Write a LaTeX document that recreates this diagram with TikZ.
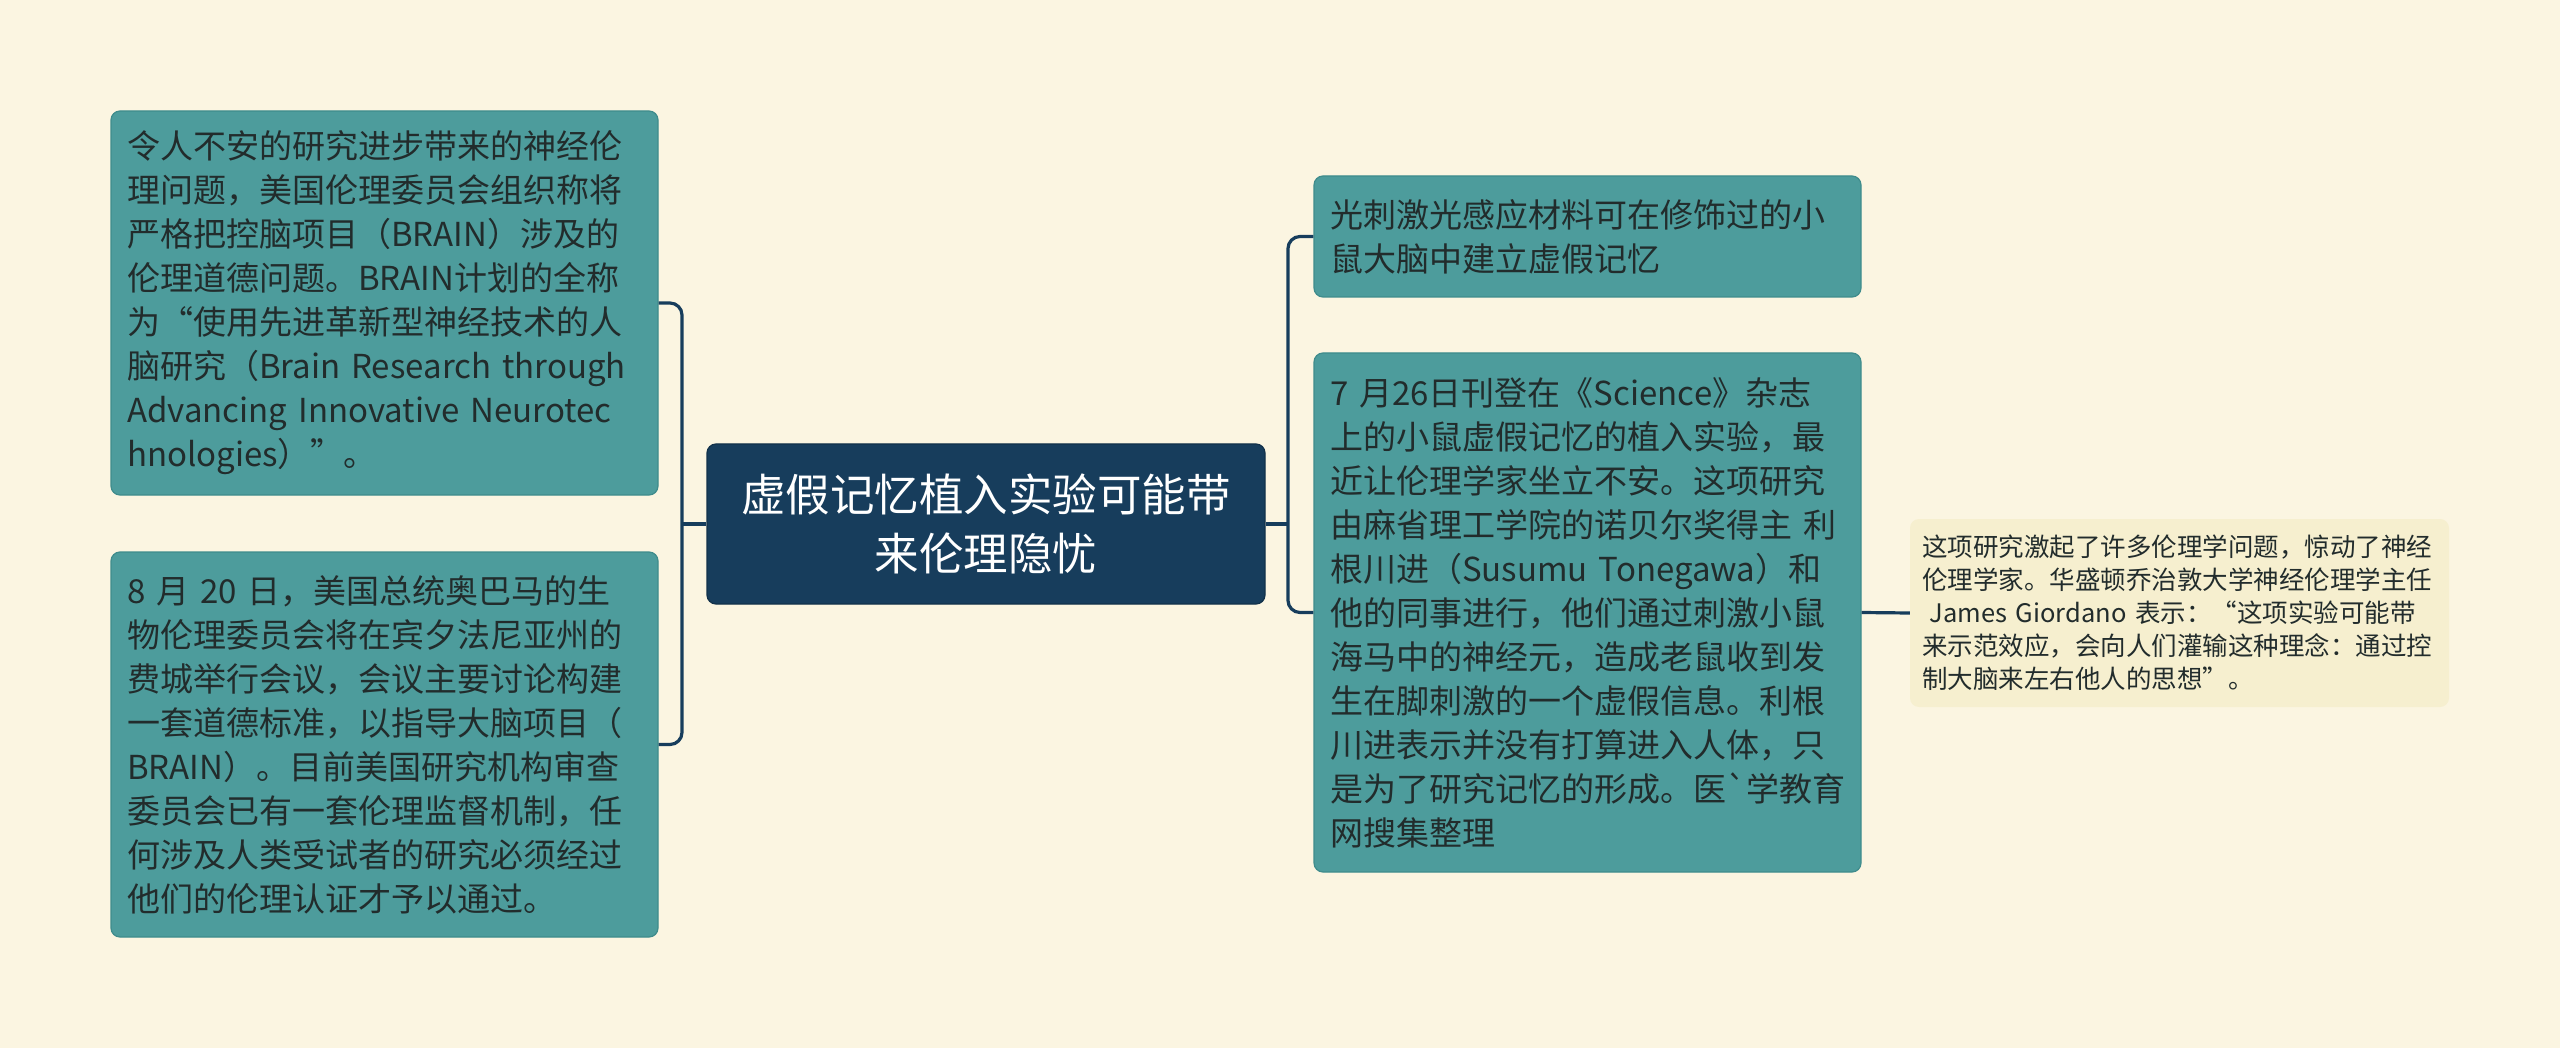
\documentclass[tikz,border=0pt]{standalone}
\usepackage{fontspec}
\newfontfamily\cjk{Noto Sans CJK SC}
\definecolor{bg}{HTML}{FBF5E1}
\definecolor{tealf}{HTML}{4D9C9C}
\definecolor{tealb}{HTML}{3F8C8C}
\definecolor{navy}{HTML}{173D5C}
\definecolor{notefill}{HTML}{F6EFCF}
\definecolor{txt}{HTML}{222C2C}
\begin{document}
\begin{tikzpicture}[x=1pt,y=-1pt,
  box/.style={draw=tealb, line width=1.2pt, fill=tealf, rounded corners=9pt, text=txt,
    align=left, inner xsep=16pt, inner ysep=0pt, text width=515pt,
    font={\cjk\fontsize{33}{44}\selectfont}},
  titlebox/.style={draw=navy!80!black, line width=1.2pt, fill=navy, rounded corners=9pt, text=white,
    align=center, inner xsep=10pt, inner ysep=0pt, text width=538pt, minimum height=160pt,
    font={\cjk\fontsize{44.5}{59}\selectfont}},
  notebox/.style={draw=none, fill=notefill, rounded corners=9pt, text=txt,
    align=left, inner xsep=12pt, inner ysep=0pt, text width=515pt, minimum height=188pt,
    font={\cjk\fontsize{25.5}{33}\selectfont}},
  conn/.style={draw=navy, line width=3.2pt, rounded corners=12pt}
]
\path[fill=bg] (0,0) rectangle (2560,1048);

\node[box, minimum height=384pt] (l1) at (384.5,303) {令人不安的研究进步带来的神经伦\\
理问题，美国伦理委员会组织称将\\
严格把控脑项目（BRAIN）涉及的\\
伦理道德问题。BRAIN计划的全称\\
为“使用先进革新型神经技术的人\\
脑研究（Brain Research through\\
Advancing Innovative Neurotec\\
hnologies）”。};

\node[box, minimum height=385pt] (l2) at (384.5,744.5) {8 月 20 日，美国总统奥巴马的生\\
物伦理委员会将在宾夕法尼亚州的\\
费城举行会议，会议主要讨论构建\\
一套道德标准，以指导大脑项目（\\
BRAIN）。目前美国研究机构审查\\
委员会已有一套伦理监督机制，任\\
何涉及人类受试者的研究必须经过\\
他们的伦理认证才予以通过。};

\node[titlebox] (c) at (986,524) {虚假记忆植入实验可能带\\来伦理隐忧};

\node[box, minimum height=121pt] (r1) at (1587.5,236.5) {光刺激光感应材料可在修饰过的小\\
鼠大脑中建立虚假记忆};

\node[box, minimum height=519pt] (r2) at (1587.5,612.5) {7 月26日刊登在《Science》杂志\\
上的小鼠虚假记忆的植入实验，最\\
近让伦理学家坐立不安。这项研究\\
由麻省理工学院的诺贝尔奖得主 利\\
根川进（Susumu Tonegawa）和\\
他的同事进行，他们通过刺激小鼠\\
海马中的神经元，造成老鼠收到发\\
生在脚刺激的一个虚假信息。利根\\
川进表示并没有打算进入人体，只\\
是为了研究记忆的形成。医\symbol{96}学教育\\
网搜集整理};

\node[notebox] (n) at (2179.5,613) {这项研究激起了许多伦理学问题，惊动了神经\\
伦理学家。华盛顿乔治敦大学神经伦理学主任\\
\hspace*{.3em}James Giordano 表示：“这项实验可能带\\
来示范效应，会向人们灌输这种理念：通过控\\
制大脑来左右他人的思想”。};

\coordinate (lj) at (682,524);
\coordinate (rj) at (1288,524);

\draw[conn] (l1.east) -| (lj) |- (l2.east);
\draw[conn] (c.west) -- (lj);
\draw[conn] (r1.west) -| (rj) |- (r2.west);
\draw[conn] (c.east) -- (rj);
\draw[conn] (r2.east) -- (n.west);
\end{tikzpicture}
\end{document}
